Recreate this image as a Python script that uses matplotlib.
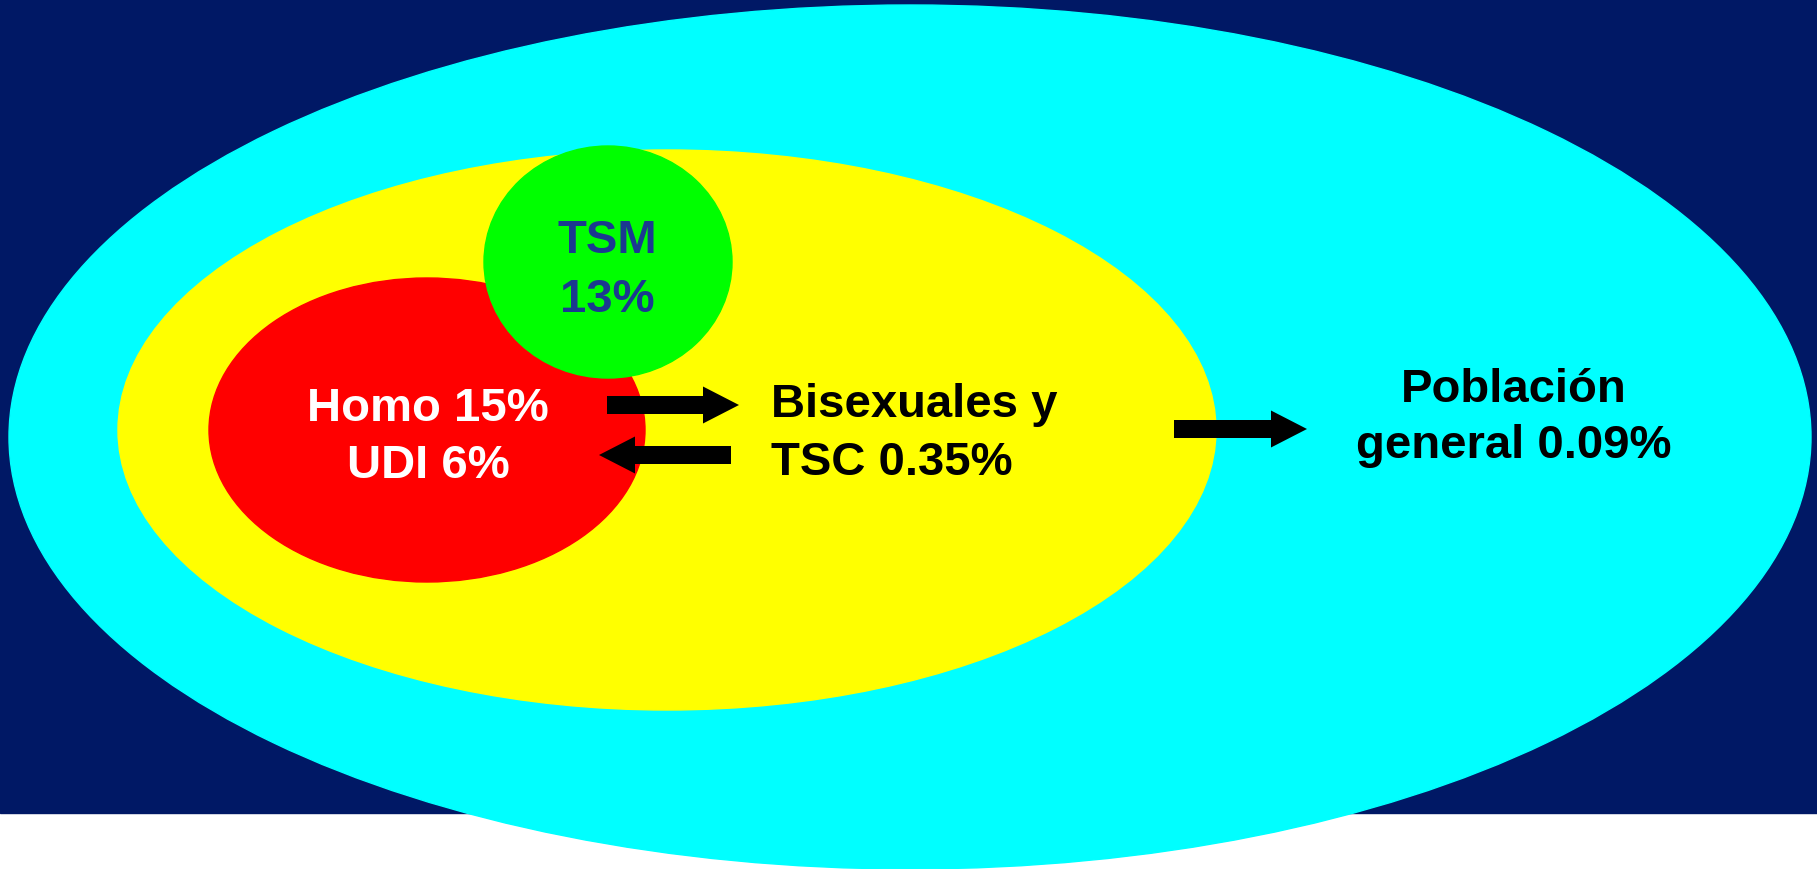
import matplotlib.pyplot as plt
from matplotlib.patches import Ellipse, Rectangle, FancyArrow

plt.rcParams['font.family'] = ['Liberation Sans', 'DejaVu Sans']

# prevalence (%) per group
groups = ['TSM', 'Homo', 'UDI', 'Bisexuales y TSC', 'Población general']
prevalence = [13, 15, 6, 0.35, 0.09]
prev = dict(zip(groups, prevalence))

fig = plt.figure(figsize=(18.17, 8.70), dpi=100)
ax = fig.add_axes([0, 0, 1, 1])
ax.set_xlim(0, 1817)
ax.set_ylim(870, 0)
ax.axis('off')

# background band
ax.add_patch(Rectangle((0, 0), 1817, 814, color='#001865', zorder=0))

# nested populations
ax.add_patch(Ellipse((910, 438), 1802, 864, color='#00FFFF', zorder=1))
ax.add_patch(Ellipse((667, 431), 1098, 560, color='#FFFF00', zorder=2))
ax.add_patch(Ellipse((427, 431), 436, 304, color='#FF0000', zorder=3))
ax.add_patch(Ellipse((608, 263), 248, 232, color='#00FF00', zorder=4))

fs = 34
kw = dict(fontsize=fs, fontweight='bold', va='baseline', zorder=6)

def pct(v):
    return f'{v:g}%'

ax.text(607, 253, 'TSM', color='#1B3990', ha='center', **kw)
ax.text(607, 312, pct(prev['TSM']), color='#1B3990', ha='center', **kw)

ax.text(428, 421, f"Homo {pct(prev['Homo'])}", color='white', ha='center', **kw)
ax.text(428, 478, f"UDI {pct(prev['UDI'])}", color='white', ha='center', **kw)

ax.text(771, 417, 'Bisexuales y', color='black', ha='left', **kw)
ax.text(771, 475, f"TSC {pct(prev['Bisexuales y TSC'])}", color='black', ha='left', **kw)

ax.text(1514, 402, 'Población', color='black', ha='center', **kw)
ax.text(1514, 458, f"general {pct(prev['Población general'])}", color='black', ha='center', **kw)

# transmission arrows
arrows = [(607, 406, 132), (731, 456, -132), (1174, 430, 133)]
for x, y, dx in arrows:
    ax.add_patch(FancyArrow(x, y, dx, 0, width=18, head_width=37, head_length=36,
                            length_includes_head=True, color='black', lw=0, zorder=5))

fig.savefig('out.png', dpi=100, facecolor='white')
